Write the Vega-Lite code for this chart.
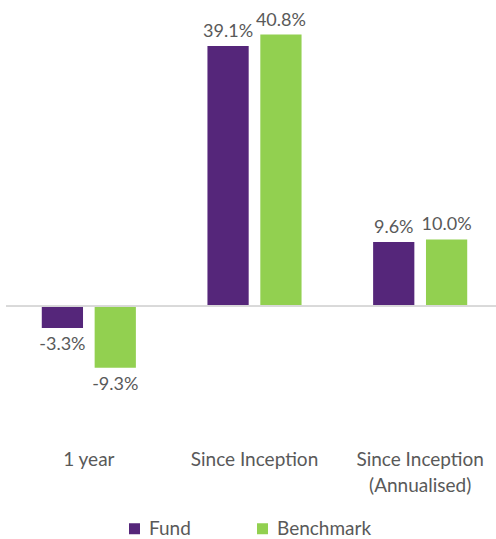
{
  "$schema": "https://vega.github.io/schema/vega-lite/v6.json",
  "width": 497,
  "height": 439,
  "autosize": {"type": "none"},
  "padding": {"left": 6, "top": 0, "right": 0, "bottom": 100},
  "config": {
    "view": {"stroke": null},
    "font": "Lato",
    "text": {"font": "Lato"}
  },
  "data": {
    "values": [
      {"period": "1 year", "series": "Fund", "value": -3.3},
      {"period": "1 year", "series": "Benchmark", "value": -9.3},
      {"period": "Since Inception", "series": "Fund", "value": 39.1},
      {"period": "Since Inception", "series": "Benchmark", "value": 40.8},
      {"period": "Since Inception (Annualised)", "series": "Fund", "value": 9.6},
      {"period": "Since Inception (Annualised)", "series": "Benchmark", "value": 10.0}
    ]
  },
  "encoding": {
    "x": {
      "field": "period",
      "type": "nominal",
      "sort": ["1 year", "Since Inception", "Since Inception (Annualised)"],
      "scale": {"paddingInner": 0.432, "paddingOuter": 0.216},
      "axis": {
        "title": null,
        "domain": false,
        "ticks": false,
        "labelAngle": 0,
        "labelFont": "Lato",
        "labelFontSize": 19,
        "labelColor": "#595959",
        "labelPadding": 11,
        "labelLineHeight": 26,
        "labelBaseline": "top",
        "labelLimit": 220,
        "labelExpr": "datum.label == 'Since Inception (Annualised)' ? ['Since Inception', '(Annualised)'] : datum.label"
      }
    },
    "xOffset": {
      "field": "series",
      "type": "nominal",
      "sort": ["Fund", "Benchmark"],
      "scale": {"paddingInner": 0.22, "paddingOuter": 0}
    },
    "y": {
      "field": "value",
      "type": "quantitative",
      "scale": {"domain": [-20, 46], "nice": false, "zero": true},
      "axis": null
    }
  },
  "layer": [
    {
      "mark": {"type": "bar"},
      "encoding": {
        "color": {
          "field": "series",
          "type": "nominal",
          "sort": ["Fund", "Benchmark"],
          "scale": {"domain": ["Fund", "Benchmark"], "range": ["#55267A", "#92D050"]},
          "legend": {
            "title": null,
            "orient": "none",
            "direction": "horizontal",
            "legendX": 119,
            "legendY": 519,
            "symbolType": "square",
            "symbolSize": 121,
            "symbolStrokeWidth": 0,
            "labelFont": "Lato",
            "labelFontSize": 19,
            "labelColor": "#595959",
            "labelOffset": 5,
            "columnPadding": 62
          }
        }
      }
    },
    {
      "mark": {"type": "rule", "color": "#D9D9D9", "strokeWidth": 1},
      "encoding": {"y": {"datum": 0}, "x": null, "xOffset": null}
    },
    {
      "transform": [
        {"filter": "datum.value >= 0"},
        {"calculate": "format(datum.value, '.1f') + '%'", "as": "label"}
      ],
      "mark": {"type": "text", "baseline": "bottom", "dy": -5, "fontSize": 18, "color": "#595959", "font": "Lato"},
      "encoding": {"text": {"field": "label", "type": "nominal"}}
    },
    {
      "transform": [
        {"filter": "datum.value < 0"},
        {"calculate": "'-' + format(abs(datum.value), '.1f') + '%'", "as": "label"}
      ],
      "mark": {"type": "text", "baseline": "top", "dy": 8, "fontSize": 18, "color": "#595959", "font": "Lato"},
      "encoding": {"text": {"field": "label", "type": "nominal"}}
    }
  ]
}
